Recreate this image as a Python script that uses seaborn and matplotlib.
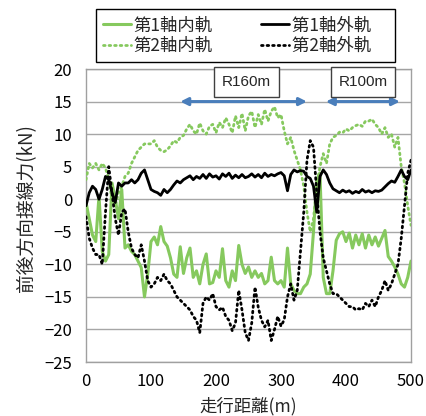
import numpy as np
import pandas as pd
import matplotlib
matplotlib.use('Agg')
import matplotlib.pyplot as plt
import seaborn as sns

# 走行距離 (m), 5 m 刻み
distance = list(range(0, 505, 5))

# 第1軸内軌
axle1_inner = [
    -0.5, -3, -5.5, -6.5, 0.5, -8, -9.5, -8.5, 2.5, 0,
    -3, 1.5, -7.5, -7, -8, -8.5, -9.5, -10.5, -15, -11.5,
    -6.5, -5.8, -7, -4.2, -6.5, -7.2, -9, -11.5, -12, -7.3,
    -11.4, -9, -7.5, -12, -11, -13, -10, -8.4, -13, -12.8,
    -11, -12, -7.6, -12.5, -13.5, -11, -12.5, -7.1, -10, -11.4,
    -10.4, -12, -11, -12, -11.4, -13, -12.5, -8.9, -12.5, -13,
    -12.5, -13.5, -7.5, -13, -14, -14.5, -14.5, -13.5, -13, -11.5,
    -5, 3, 4, -12, -14.5, -14.5, -11, -6.3, -5.3, -5,
    -6.5, -5.2, -7.5, -5.5, -7, -5.3, -7.5, -5.5, -7, -5.8,
    -7.2, -6, -4.8, -8.8, -9.5, -10.4, -11.5, -13, -13.5, -12,
    -9.5,
]

# 第1軸外軌
axle1_outer = [
    -1, 1, 2, 1.5, 0, 1.5, 3.5, 3, 1, -0.5,
    2.5, 2, 2.5, 2.5, 3, 2.5, 3, 4, 4.5, 3,
    1.5, 1.2, 1, 0.6, 1.5, 1, 1.5, 2.2, 2.8, 2.5,
    3, 3.3, 3.6, 3, 3.5, 3.2, 3.8, 3.2, 3.9, 3.4,
    3.6, 3.1, 3.9, 3.5, 4, 3.2, 3.7, 3.3, 3.8, 3.3,
    3.5, 3.9, 3.4, 3.8, 3.3, 4, 3.5, 3.8, 3.6, 3.9,
    4.1, 3.6, 1.3, 3.8, 4.5, 4.2, 4.4, 4.3, 3.5, 3.2,
    2, -2, 3.5, 4.5, 3.8, 2.5, 1.6, 1.3, 1.0, 1.4,
    1.1, 1.3, 0.9, 1.2, 1.0, 1.5, 1.1, 1.3, 1.0, 1.3,
    1.2, 1.4, 1.9, 2.4, 2.8, 2.6, 3.5, 4.5, 3.5, 3.0,
    4.5,
]

# 第2軸内軌
axle2_inner = [
    3, 5.5, 4.8, 5.5, 4.5, 5.5, 4.8, 3, 0, -1,
    1, 2, 3.5, 4, 5.5, 6.5, 7.5, 8, 8.5, 8.5,
    8.5, 9, 8, 7.5, 7.3, 7.6, 8.2, 9, 8.7, 9.5,
    9.8, 10.8, 11.5, 10.5, 10, 11.7, 10.5, 10, 11.2, 11.5,
    10.2, 11.8, 11, 12.5, 11.5, 10.2, 12.8, 11, 13.2, 10.5,
    12.8, 13.5, 11, 13, 11.5, 13.8, 12, 13.5, 14.2, 12.5,
    13, 10.5, 8.5, 9.5, 7.5, 6, 4.5, 2, -2, -5,
    -3, 2, 5, 7, 5.5, 8.5, 9.5, 9.8, 10.3, 10.2,
    10.8, 10.5, 11, 11.3, 11.5, 11.2, 12, 12, 12.3, 11.5,
    11, 10, 11, 9.5, 10, 8, 9.5, 5, 2.5, -1,
    -4,
]

# 第2軸外軌
axle2_outer = [
    -2.7, -6, -7.5, -8.5, -8.5, -10, -2, 5, 1, -3,
    -5.5, -2, -1.5, -5, -7.5, -8.5, -9, -7, -9.5, -12.5,
    -13.5, -13, -12, -12.5, -11.5, -12.5, -13, -14, -15, -15.5,
    -16, -16.5, -17, -18, -18.6, -20.5, -16, -15, -15.5, -14.5,
    -16.5, -17, -16.6, -18, -18.6, -20.2, -19, -14, -17, -20.5,
    -21.7, -19, -13.5, -16.6, -18.6, -19.6, -18.6, -21.7, -20, -18,
    -19.5, -18.5, -15, -13, -15.5, -14, -8, -2, 6, 9,
    8, 1, -5, -9, -11, -13, -14.5, -14.5, -15, -15.5,
    -16, -16.5, -16.5, -17, -16.8, -17, -16, -16.5, -15.5, -16.5,
    -15, -14, -12.5, -14, -13, -11.5, -10, -6, -1, 4,
    6,
]

legend_labels = ['第1軸内軌', '第2軸内軌', '第1軸外軌', '第2軸外軌']
sections = ['R160m', 'R100m']
section_start = [145, 369]
section_end = [340, 483]

sns.set_theme(style='white')
plt.rcParams['font.family'] = ['Noto Sans CJK JP', 'DejaVu Sans']

green = '#86c95e'
dots = (0, (0.6, 1.4))

fig = plt.figure(figsize=(4.27, 4.16), dpi=100)
ax = fig.add_axes([0.2014, 0.1298, 0.7611, 0.7043])

df = pd.DataFrame({'x': distance, 'a1i': axle1_inner, 'a1o': axle1_outer,
                   'a2i': axle2_inner, 'a2o': axle2_outer})

sns.lineplot(data=df, x='x', y='a1i', ax=ax, color=green, lw=2.2,
             label=legend_labels[0], zorder=3)
sns.lineplot(data=df, x='x', y='a2i', ax=ax, color=green, lw=2.0,
             linestyle=dots, dash_capstyle='round',
             label=legend_labels[1], zorder=3)
sns.lineplot(data=df, x='x', y='a1o', ax=ax, color='black', lw=2.0,
             label=legend_labels[2], zorder=4)
sns.lineplot(data=df, x='x', y='a2o', ax=ax, color='black', lw=2.0,
             linestyle=dots, dash_capstyle='round',
             label=legend_labels[3], zorder=4)

ax.set_xlim(0, 500)
ax.set_ylim(-25, 20)
ax.set_xticks(np.arange(0, 501, 100))
ax.set_yticks(np.arange(-25, 21, 5))
ax.grid(axis='y', color='#a6a6a6', lw=1)
ax.grid(axis='x', visible=False)
for s in ax.spines.values():
    s.set_color('#a0a0a0')
    s.set_linewidth(1)
ax.tick_params(length=0, labelsize=12, colors='black')
ax.tick_params(axis='y', pad=10)
ax.tick_params(axis='x', pad=8)

ax.set_xlabel('走行距離(m)', fontsize=12.5)
ax.set_ylabel('前後方向接線力(kN)', fontsize=13.5)
ax.yaxis.set_label_coords(-0.151, 0.527)
ax.xaxis.set_label_coords(0.5, -0.118)
ax.xaxis.label.set_va('top')

# 曲線区間の矢印とラベル
for name, x0, x1 in zip(sections, section_start, section_end):
    ax.annotate('', xy=(x0, 15), xytext=(x1, 15),
                arrowprops=dict(arrowstyle='<|-|>', color='#4a7ebb', lw=2.2,
                                mutation_scale=11, shrinkA=0, shrinkB=0),
                zorder=5)
    ax.text((x0 + x1) / 2 if name == 'R100m' else 247, 18, name,
            ha='center', va='center', fontsize=11,
            family=['Liberation Sans', 'DejaVu Sans'],
            bbox=dict(boxstyle='square,pad=0.5', fc='white', ec='#404040', lw=1),
            zorder=6, clip_on=False)

handles, labels = ax.get_legend_handles_labels()
# 右列を少し左へ寄せるため全角スペースを付ける
labels = labels[:2] + [lab + '\u3000' for lab in labels[2:]]
ax.legend(handles, labels, ncol=2, loc='lower left',
          bbox_to_anchor=(0.031, 1.024, 0.92, 0.184), mode='expand',
          borderaxespad=0, fontsize=12.5, frameon=True, fancybox=False,
          edgecolor='black', framealpha=1, handlelength=1.6,
          handletextpad=0.15, labelspacing=0.15, borderpad=0.4)
ax.get_legend().get_frame().set_linewidth(1)

fig.savefig('out.png', dpi=100)
